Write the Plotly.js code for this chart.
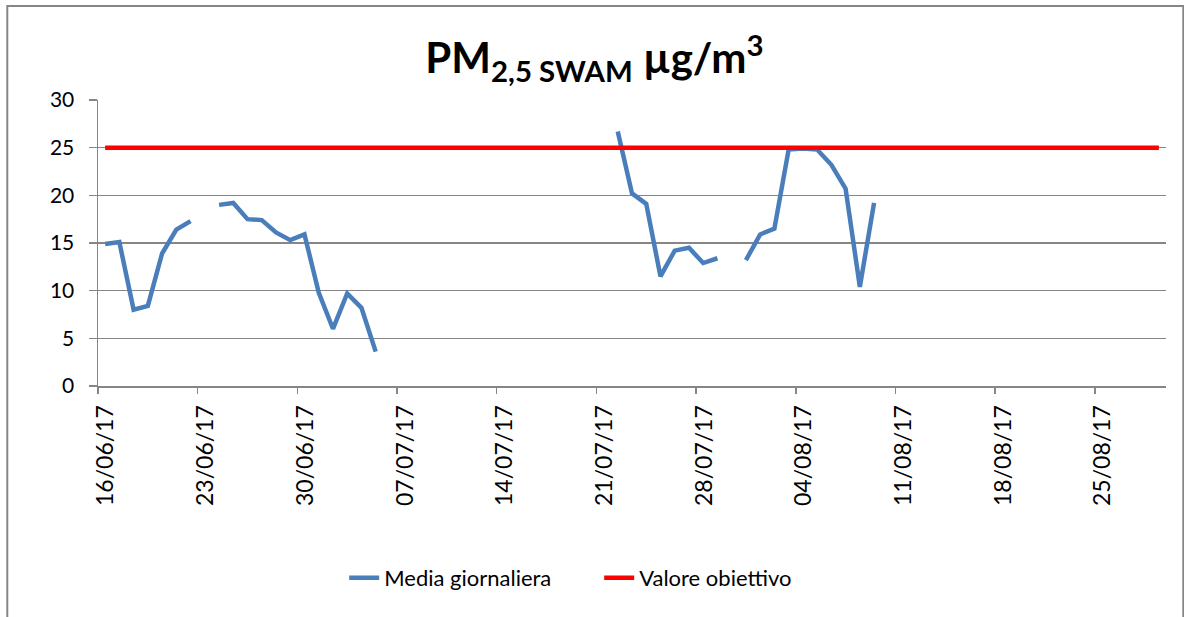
<!DOCTYPE html>
<html>
<head>
<meta charset="utf-8">
<script src="https://cdn.plot.ly/plotly-3.0.1.min.js"></script>
<style>
  html, body { margin: 0; padding: 0; background: #ffffff; }
  #chart { width: 1184px; height: 617px; }
</style>
</head>
<body>
<div id="chart"></div>
<script>
// ---- data ----
const startDate = '2017-06-16';
const nDays = 75; // 16/06/17 .. 29/08/17
const mediaGiornaliera = [
  14.9, 15.1, 8.0, 8.4, 13.9, 16.4, 17.3, null, 19.0, 19.2,
  17.5, 17.4, 16.1, 15.3, 15.9, 9.8, 6.0, 9.7, 8.2, 3.6,
  null, null, null, null, null, null, null, null, null, null,
  null, null, null, null, null, null, 26.7, 20.2, 19.1, 11.5,
  14.2, 14.5, 12.9, 13.4, null, 13.2, 15.9, 16.5, 24.8, 24.9,
  24.8, 23.2, 20.7, 10.4, 19.2, null, null, null, null, null,
  null, null, null, null, null, null, null, null, null, null,
  null, null, null, null, null
];
const valoreObiettivo = 25;
const tickDates = ['2017-06-16','2017-06-23','2017-06-30','2017-07-07','2017-07-14',
                   '2017-07-21','2017-07-28','2017-08-04','2017-08-11','2017-08-18','2017-08-25'];
const tickLabels = ['16/06/17','23/06/17','30/06/17','07/07/17','14/07/17',
                    '21/07/17','28/07/17','04/08/17','11/08/17','18/08/17','25/08/17'];
const yTicks = [0, 5, 10, 15, 20, 25, 30];

// day slots (points sit in the middle of each day, as in the source chart)
function dayString(i) {
  const d = new Date(Date.UTC(2017, 5, 16 + i));
  return d.toISOString().slice(0, 10);
}
const days = [];
for (let i = 0; i < nDays; i++) days.push(dayString(i) + ' 12:00');
const obiettivoSeries = days.map(() => valoreObiettivo);

const gridColor = '#868686';
const font = 'Lato, "Open Sans", sans-serif';

const traces = [
  {
    x: days, y: mediaGiornaliera, type: 'scatter', mode: 'lines',
    name: 'Media giornaliera', connectgaps: false,
    line: { color: '#4A7EBB', width: 4.5 }
  },
  {
    x: days, y: obiettivoSeries, type: 'scatter', mode: 'lines',
    name: 'Valore obiettivo',
    line: { color: '#FF0000', width: 4.5 }
  }
];

const layout = {
  width: 1184, height: 617,
  margin: { l: 98, r: 18, t: 100, b: 231, pad: 0 },
  paper_bgcolor: '#ffffff', plot_bgcolor: '#ffffff',
  font: { family: font, size: 20, color: '#000000' },
  title: {
    text: 'PM<sub>2,5 SWAM</sub> µg/m<sup>3</sup>',
    font: { family: font, size: 42, color: '#000000', weight: 'bold' },
    x: 0.502, xref: 'container', xanchor: 'center',
    y: 0.905, yref: 'container', yanchor: 'middle'
  },
  xaxis: {
    type: 'date',
    range: ['2017-06-16', '2017-08-30'],
    tickvals: tickDates, ticktext: tickLabels,
    tickangle: -90,
    ticks: 'outside', ticklen: 6, tickcolor: gridColor, tickwidth: 1.5,
    ticklabelshift: 8, ticklabelstandoff: 2,
    showline: true, linecolor: gridColor, linewidth: 2,
    showgrid: false, zeroline: false,
    tickfont: { family: font, size: 23, color: '#000000' },
    fixedrange: true
  },
  yaxis: {
    range: [0, 30],
    tickvals: yTicks,
    ticks: 'outside', ticklen: 8, tickcolor: gridColor, tickwidth: 1.5,
    ticklabelstandoff: 10,
    showline: true, linecolor: gridColor, linewidth: 1.5,
    showgrid: true, gridcolor: gridColor, gridwidth: 1.5,
    zeroline: false,
    tickfont: { family: font, size: 21, color: '#000000' },
    fixedrange: true
  },
  showlegend: true,
  legend: {
    orientation: 'h',
    x: 0.2305, xanchor: 'left',
    y: -0.671, yanchor: 'middle',
    entrywidth: 210, entrywidthmode: 'pixels',
    font: { family: font, size: 22, color: '#000000' },
    bgcolor: 'rgba(0,0,0,0)'
  },
  shapes: [
    {
      type: 'rect', xref: 'paper', yref: 'paper',
      x0: (7.3 - 98) / 1068, x1: (1183.3 - 98) / 1068,
      y0: (386 - 640) / 286, y1: (386 - 6) / 286,
      line: { color: gridColor, width: 2 }, fillcolor: 'rgba(0,0,0,0)',
      layer: 'below'
    }
  ]
};

Plotly.newPlot('chart', traces, layout, { displayModeBar: false, staticPlot: true });
</script>
</body>
</html>
